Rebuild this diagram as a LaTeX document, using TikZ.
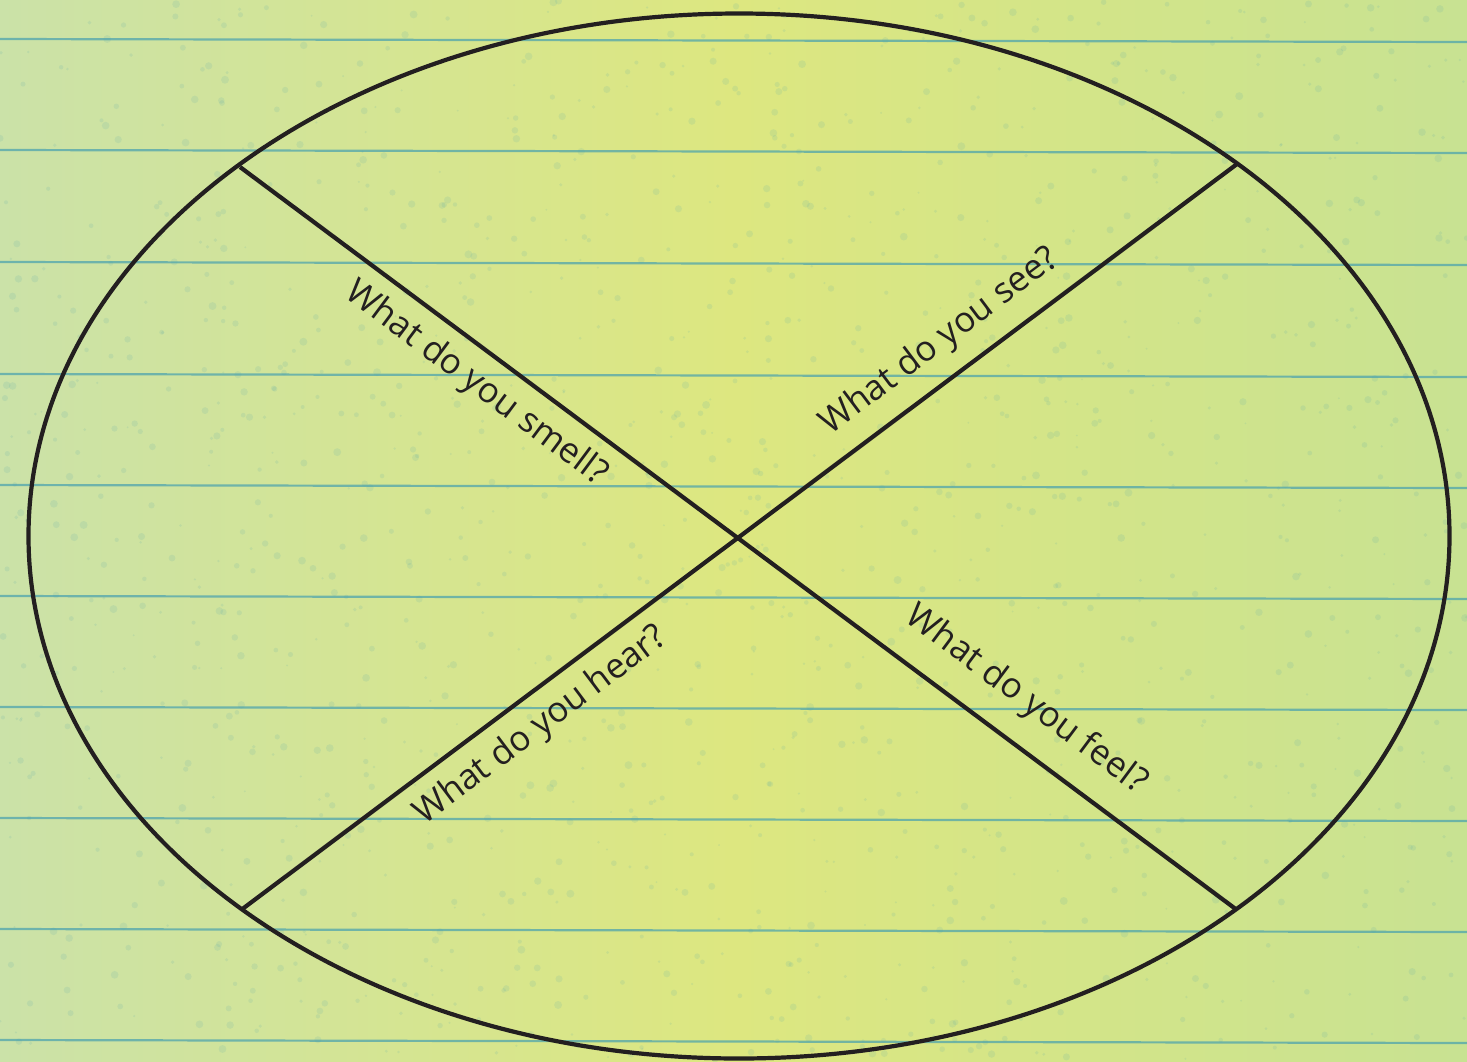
\documentclass[tikz,border=0pt]{standalone}
\usepackage{fontspec}
\setmainfont{Open Sans}
\begin{document}
\begin{tikzpicture}[x=1pt,y=-1pt,
  rule/.style={draw=ruleblue,line width=2.2pt,opacity=0.7},
  outline/.style={draw=inkdark,line width=4.2pt},
  question/.style={font=\fontsize{35}{42}\selectfont,text=inkdark,inner sep=0pt}]
\definecolor{paperL}{RGB}{203,226,168}
\definecolor{paperM}{RGB}{221,231,128}
\definecolor{paperR}{RGB}{200,226,146}
\definecolor{ruleblue}{RGB}{70,160,175}
\definecolor{inkdark}{RGB}{35,31,32}
\useasboundingbox (0,0) rectangle (1467,1061);
\shade[left color=paperL,right color=paperM] (0,0) rectangle (734,1061);
\shade[left color=paperM,right color=paperR] (733,0) rectangle (1467,1061);
% fine speckle texture
\pgfmathsetseed{7}
\foreach \i in {1,...,1400}{
  \pgfmathsetmacro{\px}{rnd*1467}
  \pgfmathsetmacro{\py}{rnd*1061}
  \pgfmathsetmacro{\pr}{1+rnd*3}
  \fill[ruleblue,opacity=0.12] (\px,\py) circle[radius=\pr];
}
% ruled lines
\foreach \yy in {39,150,262,374,485,596,707,818,929,1040}{
  \draw[rule] (0,\yy) -- (1467,\yy+3);
}
% ellipse and crossing lines
\coordinate (c) at (739,536);
\draw[outline] (c) ellipse[x radius=710.5,y radius=522.5];
\coordinate (nw) at (240,167);
\coordinate (ne) at (1237,164);
\coordinate (sw) at (241,910);
\coordinate (se) at (1237,910);
\draw[outline] (nw) -- (se);
\draw[outline] (ne) -- (sw);
% questions
\node[question,rotate=-36.7] (smell) at (476,384) {What do you smell?};
\node[question,rotate=36.9] (see) at (940,342) {What do you see?};
\node[question,rotate=36.9] (hear) at (541,726) {What do you hear?};
\node[question,rotate=-36.7] (feel) at (1026,700) {What do you feel?};
\end{tikzpicture}
\end{document}
